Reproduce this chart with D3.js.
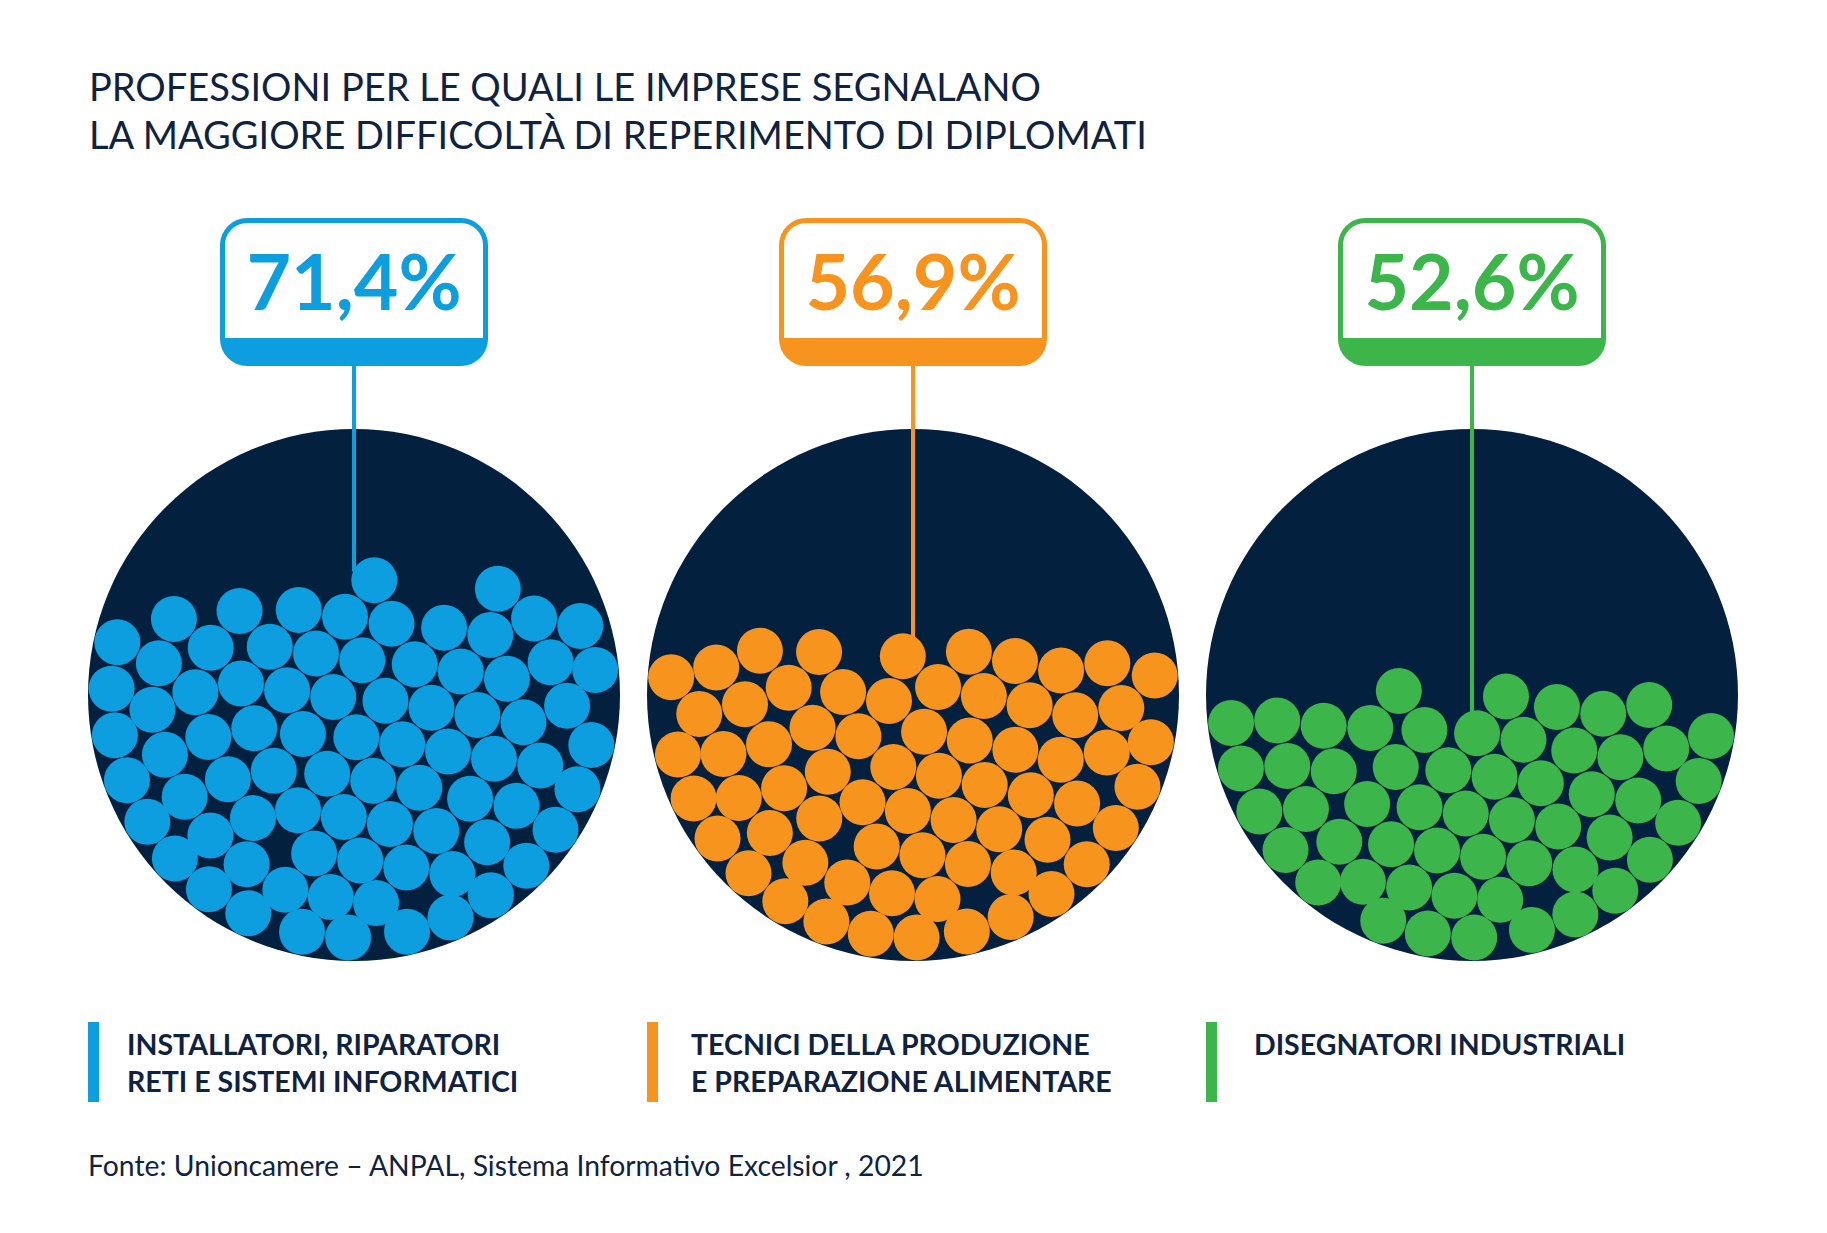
<!DOCTYPE html>
<html>
<head>
<meta charset="utf-8">
<script src="https://cdn.jsdelivr.net/npm/d3@7"></script>
<style>
  html, body { margin: 0; padding: 0; background: #ffffff; }
  svg { display: block; }
  text { font-family: Lato, "Open Sans", sans-serif; }
</style>
</head>
<body>
<svg id="chart" width="1827" height="1233"></svg>
<script>
// ---------------- DATA ----------------
const titleLines = [
  "PROFESSIONI PER LE QUALI LE IMPRESE SEGNALANO",
  "LA MAGGIORE DIFFICOLTÀ DI REPERIMENTO DI DIPLOMATI"
];
const categories = ["installatori", "tecnici", "disegnatori"];
const categoryLabels = [
  ["INSTALLATORI, RIPARATORI", "RETI E SISTEMI INFORMATICI"],
  ["TECNICI DELLA PRODUZIONE", "E PREPARAZIONE ALIMENTARE"],
  ["DISEGNATORI INDUSTRIALI"]
];
const values = [71.4, 56.9, 52.6];
const valueLabels = ["71,4%", "56,9%", "52,6%"];
const ballCounts = [80, 67, 54];
const source = "Fonte: Unioncamere – ANPAL, Sistema Informativo Excelsior , 2021";

// ---------------- STYLE / LAYOUT ----------------
const colors = ["#0d9edf", "#f7941d", "#3cb54a"];
const legendTextOffset = [39, 44, 48];
const navy = "#04203f";
const textColor = "#0f2341";

const svg = d3.select("#chart");

const R = 266;          // big circle radius
const cy = 695;         // big circle center y
const ballR = 23;

const x = d3.scalePoint().domain(categories).range([354, 1472]);
// vertical fill scale (0% at circle bottom, 100% at top)
const yFill = d3.scaleLinear().domain([0, 100]).range([cy + R, cy - R]);

// ---------------- TITLE ----------------
svg.append("g").selectAll("text").data(titleLines).join("text")
  .attr("x", 89)
  .attr("y", (d, i) => 101 + i * 48)
  .attr("font-size", 38)
  .attr("font-weight", 400)
  .attr("fill", textColor)
  .text(d => d);

// ---------------- BALL PACKING ----------------
function pack(cx, n) {
  const Rc = R - ballR - 0.5;
  const dy = 2 * ballR * 0.88;
  const nodes = [];
  let k = 0;
  while (nodes.length < n) {
    const yy = cy + Rc - k * dy;
    const d = yy - cy;
    const hw = Math.sqrt(Math.max(0, Rc * Rc - d * d));
    const m = Math.floor(2 * hw / (2 * ballR + 1)) + 1;
    const left = n - nodes.length;
    const use = Math.min(m, left);
    for (let j = 0; j < use; j++) {
      let xx;
      if (m === 1) xx = cx;
      else if (use < m) xx = cx - hw + (j + 0.5) * (2 * hw / use);
      else xx = cx - hw + j * (2 * hw / (m - 1));
      nodes.push({ x: xx, y: yy });
    }
    k++;
  }
  const gravity = () => { for (const nd of nodes) nd.vy += 0.3; };
  const contain = () => {
    for (const nd of nodes) {
      let px = nd.x + nd.vx, py = nd.y + nd.vy;
      const ddx = px - cx, ddy = py - cy;
      const dd = Math.hypot(ddx, ddy);
      if (dd > Rc) {
        px = cx + ddx / dd * Rc; py = cy + ddy / dd * Rc;
        nd.vx = px - nd.x; nd.vy = py - nd.y;
      }
    }
  };
  const sim = d3.forceSimulation(nodes)
    .velocityDecay(0.35)
    .force("gravity", gravity)
    .force("collide", d3.forceCollide(ballR + 0.4).strength(0.9).iterations(4))
    .force("contain", contain)
    .stop();
  sim.tick(1500);
  return nodes;
}

// ---------------- PANELS ----------------
categories.forEach((cat, i) => {
  const cx = x(cat);
  const col = colors[i];
  const g = svg.append("g");

  g.append("circle").attr("cx", cx).attr("cy", cy).attr("r", R).attr("fill", navy);

  const nodes = pack(cx, ballCounts[i]);

  // leader line end: top of the highest ball crossing the center line
  let lineEnd = yFill(values[i]);
  let best = Infinity;
  nodes.forEach(nd => {
    const dx = Math.abs(nd.x - cx);
    if (dx < ballR) {
      const top = nd.y - Math.sqrt(ballR * ballR - dx * dx);
      if (top < best) best = top;
    }
  });
  if (best < Infinity) lineEnd = best + 2;

  const bw = 268, bh = 148, by = 218, sw = 5;
  const bx = cx - bw / 2;
  const bandTop = 338;

  g.append("line")
    .attr("x1", cx).attr("x2", cx)
    .attr("y1", by + bh - 2).attr("y2", lineEnd)
    .attr("stroke", col).attr("stroke-width", 4);

  g.append("g").selectAll("circle").data(nodes).join("circle")
    .attr("cx", d => d.x).attr("cy", d => d.y).attr("r", ballR)
    .attr("fill", col);

  g.append("rect")
    .attr("x", bx).attr("y", by).attr("width", bw).attr("height", bh)
    .attr("rx", 27).attr("ry", 27).attr("fill", col);
  const ix = bx + sw, iy = by + sw, iw = bw - 2 * sw, ih = bandTop - iy, ir = 22;
  const p = d3.path();
  p.moveTo(ix, iy + ih);
  p.lineTo(ix, iy + ir);
  p.arcTo(ix, iy, ix + ir, iy, ir);
  p.lineTo(ix + iw - ir, iy);
  p.arcTo(ix + iw, iy, ix + iw, iy + ir, ir);
  p.lineTo(ix + iw, iy + ih);
  p.closePath();
  g.append("path").attr("d", p.toString()).attr("fill", "#ffffff");

  g.append("text")
    .attr("x", cx).attr("y", 310)
    .attr("text-anchor", "middle")
    .attr("font-size", 77).attr("font-weight", 700)
    .attr("fill", col)
    .text(valueLabels[i]);

  const lx = cx - 266;
  g.append("rect").attr("x", lx).attr("y", 1022).attr("width", 11).attr("height", 80).attr("fill", col);
  g.append("g").selectAll("text").data(categoryLabels[i]).join("text")
    .attr("x", lx + legendTextOffset[i])
    .attr("y", (d, j) => 1055 + j * 37)
    .attr("font-size", 28.5).attr("font-weight", 700)
    .attr("fill", textColor)
    .text(d => d);
});

// ---------------- SOURCE ----------------
svg.append("text")
  .attr("x", 88).attr("y", 1176)
  .attr("font-size", 28.3).attr("font-weight", 400)
  .attr("fill", textColor)
  .text(source);
</script>
</body>
</html>
